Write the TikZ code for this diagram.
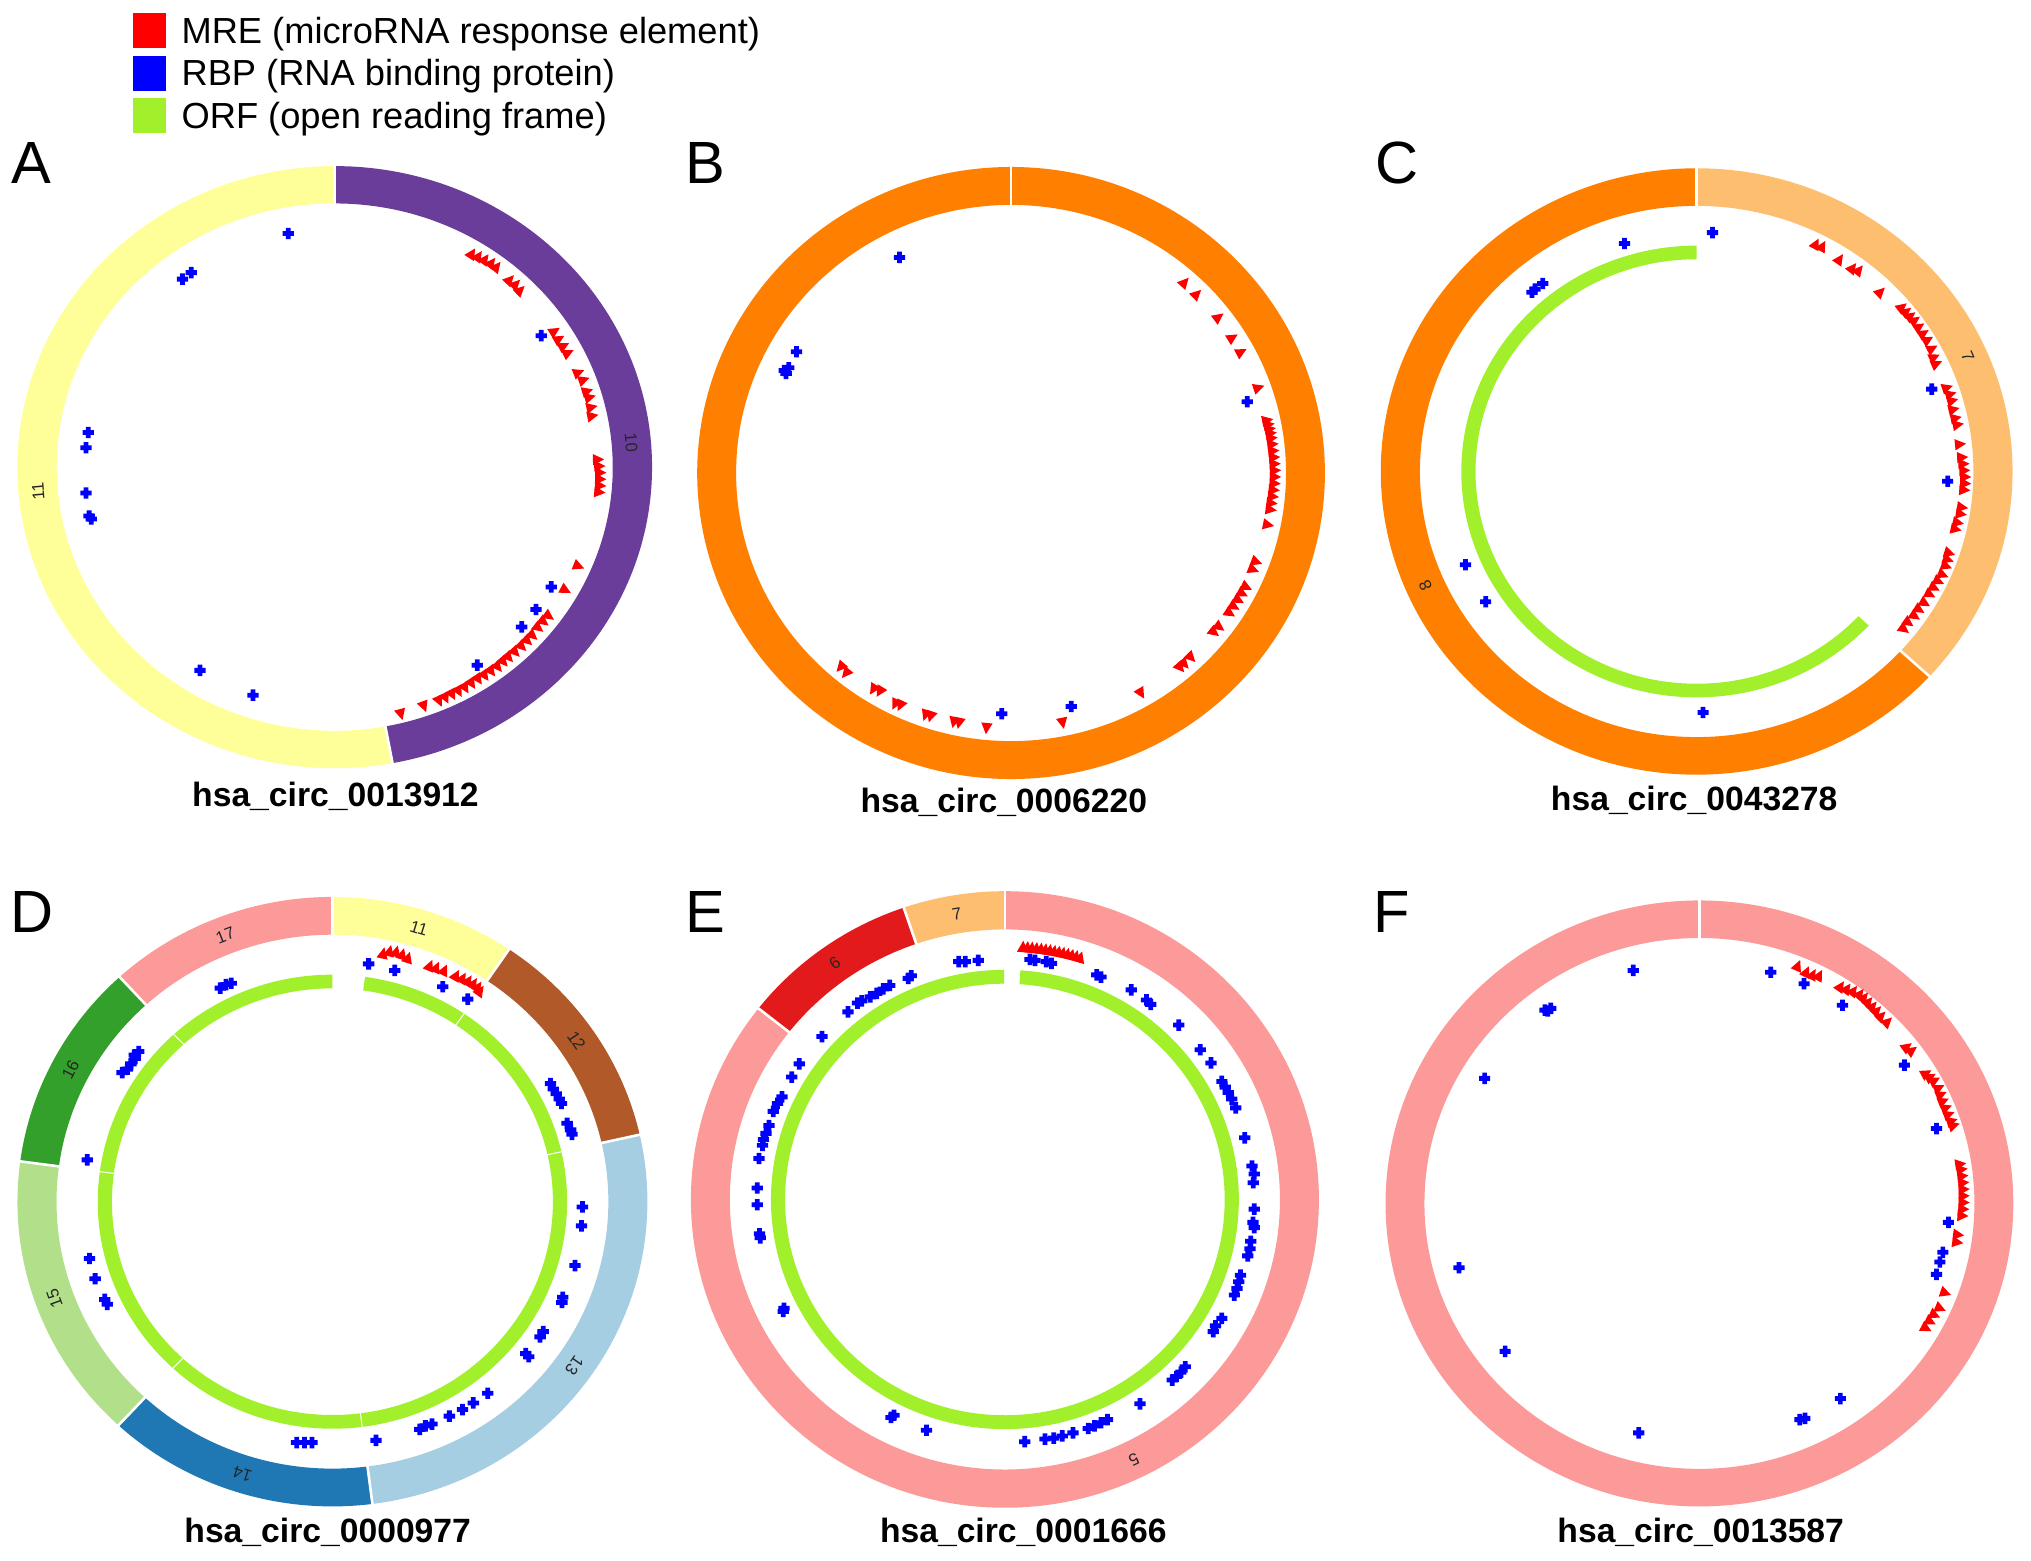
\documentclass[tikz,border=0pt]{standalone}
\usepackage{fontspec}
\setmainfont{Liberation Sans}
\definecolor{mrecol}{HTML}{FF0000}
\definecolor{rbpcol}{HTML}{0000FF}
\definecolor{orfcol}{HTML}{A2F02C}
\definecolor{c5}{HTML}{FB9A99}
\definecolor{c6}{HTML}{E31A1C}
\definecolor{c7}{HTML}{FDBF6F}
\definecolor{c8}{HTML}{FF7F00}
\definecolor{c10}{HTML}{6A3D9A}
\definecolor{c11}{HTML}{FFFF99}
\definecolor{c12}{HTML}{B15928}
\definecolor{c13}{HTML}{A6CEE3}
\definecolor{c14}{HTML}{1F78B4}
\definecolor{c15}{HTML}{B2DF8A}
\definecolor{c16}{HTML}{33A02C}
\definecolor{c17}{HTML}{FB9A99}
\newcommand\triZ[2]{%
  \pgfmathsetmacro\tang{atan2(\pcy-(#2),(#1)-\pcx)}%
  \fill[mrecol,shift={({#1},{#2})},rotate=\tang] (15,0) -- (-11,13) -- (-11,-13) -- cycle;}
\newcommand\rbpZ[2]{%
  \fill[rbpcol] ({#1},{#2}) +(-13,-5.5) rectangle +(13,5.5) ({#1},{#2}) +(-5.5,-13) rectangle +(5.5,13);}
\newcommand\annsec[7]{%
  \fill[#1] ({#2-90}:#4 and #5) arc[start angle={#2-90}, end angle={#3-90}, x radius=#4, y radius=#5] -- ({#3-90}:#6 and #7) arc[start angle={#3-90}, end angle={#2-90}, x radius=#6, y radius=#7] -- cycle;}
\newcommand\sepl[6]{\draw[white, line width=#1] ({#2-90}:#3 and #4) -- ({#2-90}:#5 and #6);}
\newcommand\exlab[5]{\node[exonlab, rotate={-(#1)}] (#5) at ({#1-90}:#2 and #3) {#4};}
\begin{document}
\begin{tikzpicture}[x=1pt,y=-1pt,
  exonlab/.style={font=\fontsize{13}{13}\selectfont, text=black!85, inner sep=0},
  titlelab/.style={font=\fontsize{26}{28}\selectfont\bfseries, inner sep=0, anchor=base},
  panlab/.style={font=\fontsize{46}{46}\selectfont, inner sep=0, anchor=base west},
  legtxt/.style={font=\fontsize{28}{30}\selectfont, inner sep=0, anchor=west}]
\useasboundingbox (0,0) rectangle (1568,1205);
\fill[white] (0,0) rectangle (1568,1205);
% legend
\fill[mrecol] (103,10) rectangle (128,37);
\fill[rbpcol] (103,43) rectangle (128,70);
\fill[orfcol] (103,76) rectangle (128,103);
\node[legtxt] (lg1) at (140,26) {MRE (microRNA response element)};
\node[legtxt] (lg2) at (140,59) {RBP (RNA binding protein)};
\node[legtxt] (lg3) at (140,92) {ORF (open reading frame)};
% panel letters and titles
\node[panlab] (LA) at (9,142) {A};
\node[panlab] (LB) at (529,142) {B};
\node[panlab] (LC) at (1062,142) {C};
\node[panlab] (LD) at (8,720) {D};
\node[panlab] (LE) at (529,720) {E};
\node[panlab] (LF) at (1060,720) {F};
\node[titlelab] (TA) at (259,623) {hsa\_circ\_0013912};
\node[titlelab] (TB) at (775,627) {hsa\_circ\_0006220};
\node[titlelab] (TC) at (1308,626) {hsa\_circ\_0043278};
\node[titlelab] (TD) at (253,1191) {hsa\_circ\_0000977};
\node[titlelab] (TE) at (790,1191) {hsa\_circ\_0001666};
\node[titlelab] (TF) at (1313,1191) {hsa\_circ\_0013587};
% ---------------- Panel A
\begin{scope}[shift={(0,108.1)}, scale=0.3356]
 \def\pcx{770}\def\pcy{752.5}
 \begin{scope}[shift={(\pcx,\pcy)}]
  \annsec{c10}{0}{169.5}{730}{692.5}{639.5}{606.6}
  \annsec{c11}{169.5}{360}{730}{692.5}{639.5}{606.6}
  \sepl{2pt}{0}{627.8}{595.6}{744.6}{706.4}
  \sepl{2pt}{169.5}{627.8}{595.6}{744.6}{706.4}
  \exlab{85}{684.7}{649.6}{10}{A10}
  \exlab{265}{684.7}{649.6}{11}{A11}
 \end{scope}
 \foreach \p/\q in {663/215, 420/320, 440/305, 203/673, 198/708, 198/812, 205/865, 210/872, 1245/450, 1268/1028, 1233/1080, 1200/1120, 1098/1208, 460/1220, 582/1277} {\rbpZ{\p}{\q}}
 \foreach \p/\q in {1085/262, 1100/268, 1115/275, 1130/283, 1142/292, 1172/322, 1186/332, 1196/346, 1275/440, 1285/458, 1296/474, 1306/490, 1330/535, 1342/552, 1350/578, 1356/592, 1360/615, 1362/635, 1375/735, 1378/750, 1380/765, 1380/780, 1380/795, 1378/810, 1330/980, 1300/1035, 1262/1095, 1250/1108, 1238/1122, 1225/1140, 1213/1152, 1200/1165, 1185/1178, 1170/1190, 1158/1200, 1145/1212, 1130/1222, 1115/1232, 1100/1240, 1085/1250, 1070/1260, 1055/1268, 1040/1275, 1025/1283, 1010/1290, 975/1302, 922/1320} {\triZ{\p}{\q}}
\end{scope}
% ---------------- Panel B
\begin{scope}[shift={(525,108.1)}, scale=0.3356]
 \def\pcx{761.5}\def\pcy{766}
 \begin{scope}[shift={(\pcx,\pcy)}]
  \annsec{c8}{0}{360}{722}{704}{632.5}{616.7}
  \sepl{2pt}{0}{620.9}{605.4}{736.4}{718.1}
 \end{scope}
 \foreach \p/\q in {505/270, 268/487, 240/530, 250/524, 244/537, 1305/602, 740/1320, 900/1303} {\rbpZ{\p}{\q}}
 \foreach \p/\q in {1160/328, 1188/355, 1238/408, 1270/455, 1290/488, 1330/570, 1350/645, 1353/655, 1356/665, 1358/675, 1360/686, 1362/700, 1364/715, 1366/730, 1367/745, 1368/760, 1368/775, 1367/790, 1365/805, 1363/820, 1360/835, 1358/850, 1352/885, 1325/970, 1318/988, 1302/1028, 1293/1043, 1284/1058, 1274/1073, 1264/1088, 1240/1120, 1228/1132, 1175/1190, 1160/1205, 1150/1213, 1060/1272, 880/1340, 705/1352, 642/1340, 630/1338, 577/1325, 565/1322, 507/1300, 495/1297, 460/1268, 445/1263, 382/1226, 370/1212} {\triZ{\p}{\q}}
\end{scope}
% ---------------- Panel C
\begin{scope}[shift={(1048.4,108.1)}, xscale=0.3318, yscale=0.3356]
 \def\pcx{788}\def\pcy{762.5}
 \begin{scope}[shift={(\pcx,\pcy)}]
  \annsec{c7}{0}{132.5}{735}{697.5}{643.9}{611}
  \annsec{c8}{132.5}{360}{735}{697.5}{643.9}{611}
  \sepl{2pt}{0}{632.1}{599.9}{749.7}{711.5}
  \sepl{2pt}{132.5}{632.1}{599.9}{749.7}{711.5}
  \exlab{66.25}{689.4}{654.3}{7}{C7}
  \exlab{246.25}{689.4}{654.3}{8}{C8}
  \annsec{orfcol}{133}{360}{547.6}{519.6}{514.5}{488.25}
 \end{scope}
 \foreach \p/\q in {825/213, 620/238, 405/350, 430/330, 412/343, 1335/573, 1372/785, 250/977, 297/1062, 803/1317} {\rbpZ{\p}{\q}}
 \foreach \p/\q in {1065/240, 1080/245, 1120/275, 1150/295, 1165/300, 1215/350, 1265/385, 1275/395, 1285/405, 1295/415, 1305/430, 1315/445, 1325/460, 1335/480, 1340/500, 1345/515, 1370/570, 1378/585, 1382/600, 1385/620, 1390/640, 1395/655, 1400/700, 1405/730, 1408/745, 1410/760, 1412/775, 1412/790, 1410/805, 1405/845, 1402/860, 1395/880, 1390/895, 1375/950, 1372/965, 1368/980, 1360/1000, 1350/1015, 1340/1030, 1330/1045, 1318/1065, 1305/1080, 1295/1095, 1280/1110, 1270/1125} {\triZ{\p}{\q}}
\end{scope}
% ---------------- Panel D
\begin{scope}[shift={(0,671.7)}, xscale=0.3368, yscale=0.340]
 \def\pcx{762}\def\pcy{753}
 \begin{scope}[shift={(\pcx,\pcy)}]
  \annsec{c11}{0}{34.1}{722}{692}{632.5}{606.2}
  \annsec{c12}{34.1}{77.3}{722}{692}{632.5}{606.2}
  \annsec{c13}{77.3}{172.7}{722}{692}{632.5}{606.2}
  \annsec{c14}{172.7}{222.8}{722}{692}{632.5}{606.2}
  \annsec{c15}{222.8}{277.6}{722}{692}{632.5}{606.2}
  \annsec{c16}{277.6}{317.5}{722}{692}{632.5}{606.2}
  \annsec{c17}{317.5}{360}{722}{692}{632.5}{606.2}
  \foreach \c in {0,34.1,77.3,172.7,222.8,277.6,317.5} {\sepl{2pt}{\c}{620.9}{595.1}{736.4}{705.8}}
  \exlab{17}{677.2}{649.1}{11}{D11}
  \exlab{55.7}{677.2}{649.1}{12}{D12}
  \exlab{125}{677.2}{649.1}{13}{D13}
  \exlab{197.75}{677.2}{649.1}{14}{D14}
  \exlab{250.2}{677.2}{649.1}{15}{D15}
  \exlab{297.55}{677.2}{649.1}{16}{D16}
  \exlab{338.75}{677.2}{649.1}{17}{D17}
  \annsec{orfcol}{8}{360}{537.9}{515.5}{505.4}{484.4}
  \foreach \c in {34.1,77.3,172.7,222.8,277.6,317.5} {\sepl{0.8pt}{\c}{500}{480}{543}{520}}
 \end{scope}
 \foreach \p/\q in {845/213, 905/228, 1015/265, 1072/293, 505/268, 518/260, 530/257, 280/460, 292/452, 300/440, 310/428, 318/412, 308/420, 200/658, 205/882, 218/928, 240/975, 246/986, 1262/485, 1268/497, 1275/508, 1282/520, 1287/530, 1300/575, 1308/590, 1311/600, 1335/765, 1333/808, 1318/898, 1290/970, 1288/982, 1245/1048, 1238/1060, 1205/1098, 1212/1105, 1118/1188, 1085/1210, 1060/1225, 1030/1240, 990/1258, 975/1262, 962/1270, 862/1295, 680/1300, 698/1300, 715/1300} {\rbpZ{\p}{\q}}
 \foreach \p/\q in {878/190, 893/185, 908/186, 922/192, 935/200, 985/218, 1000/222, 1018/228, 1045/240, 1060/246, 1073/252, 1085/258, 1095/266, 1100/275} {\triZ{\p}{\q}}
\end{scope}
% ---------------- Panel E
\begin{scope}[shift={(525.4,671.7)}, xscale=0.333, yscale=0.340]
 \def\pcx{752}\def\pcy{748}
 \begin{scope}[shift={(\pcx,\pcy)}]
  \annsec{c5}{0}{308.3}{728}{700}{637.7}{613.2}
  \annsec{c6}{308.3}{341.2}{728}{700}{637.7}{613.2}
  \annsec{c7}{341.2}{360}{728}{700}{637.7}{613.2}
  \foreach \c in {0,308.3,341.2} {\sepl{2pt}{\c}{626}{602}{742.6}{714}}
  \exlab{154}{682.9}{656.6}{5}{E5}
  \exlab{324.75}{682.9}{656.6}{6}{E6}
  \exlab{350.6}{682.9}{656.6}{7}{E7}
  \annsec{orfcol}{3.8}{359.8}{542.4}{521.5}{509.6}{490}
 \end{scope}
 \foreach \p/\q in {645/208, 660/208, 690/205, 810/203, 822/205, 848/208, 860/212, 965/238, 975/243, 1045/272, 1080/295, 1090/305, 1155/352, 1205/408, 1230/438, 1255/480, 1263/493, 1270/505, 1278/520, 1287/540, 1308/608, 1325/672, 1330/690, 1328/710, 1330/770, 1327/800, 1330/812, 1322/843, 1320/860, 1315/876, 1298/920, 1294/935, 1290/950, 1284/965, 1255/1018, 1240/1035, 1235/1048, 1170/1128, 1160/1140, 1150/1150, 1140/1158, 1065/1212, 990/1248, 975/1255, 960/1262, 945/1268, 910/1278, 885/1285, 865/1290, 845/1292, 798/1298, 570/1272, 495/1238, 488/1243, 535/240, 528/246, 485/262, 470/270, 455/280, 440/288, 420/297, 410/302, 388/322, 328/378, 275/440, 258/470, 235/515, 225/530, 215/548, 205/580, 198/598, 192/612, 190/625, 182/655, 178/722, 178/760, 185/835, 183/826, 240/995, 238/1002} {\rbpZ{\p}{\q}}
 \foreach \c in {4,5,...,17} {\triZ{752+597*sin(\c)}{748-574*cos(\c)}}
\end{scope}
% ---------------- Panel F
\begin{scope}[shift={(1049.9,671.7)}, xscale=0.3297, yscale=0.340]
 \def\pcx{795}\def\pcy{757}
 \begin{scope}[shift={(\pcx,\pcy)}]
  \annsec{c5}{0}{360}{735}{688}{643.9}{602.7}
  \sepl{2pt}{0}{632.1}{591.7}{749.7}{701.8}
 \end{scope}
 \foreach \p/\q in {640/228, 962/232, 1040/258, 1130/307, 440/320, 433/318, 447/314, 292/473, 1275/443, 1350/587, 1378/800, 1365/868, 1358/890, 1350/918, 232/903, 340/1093, 1125/1200, 1030/1248, 1042/1245, 653/1278} {\rbpZ{\p}{\q}}
 \foreach \p/\q in {1025/218, 1045/232, 1060/238, 1075/240, 1125/265, 1140/270, 1155/275, 1170/282, 1180/290, 1190/300, 1200/310, 1210/320, 1220/332, 1235/345, 1280/402, 1292/410, 1325/462, 1335/470, 1345/478, 1355/495, 1360/510, 1365/525, 1372/540, 1378/555, 1385/570, 1390/580, 1405/668, 1408/680, 1410/695, 1412/710, 1413/725, 1413/740, 1413/755, 1412/770, 1410/785, 1400/828, 1398/845, 1370/960, 1358/995, 1345/1010, 1335/1025, 1325/1040} {\triZ{\p}{\q}}
\end{scope}
\end{tikzpicture}
\end{document}
